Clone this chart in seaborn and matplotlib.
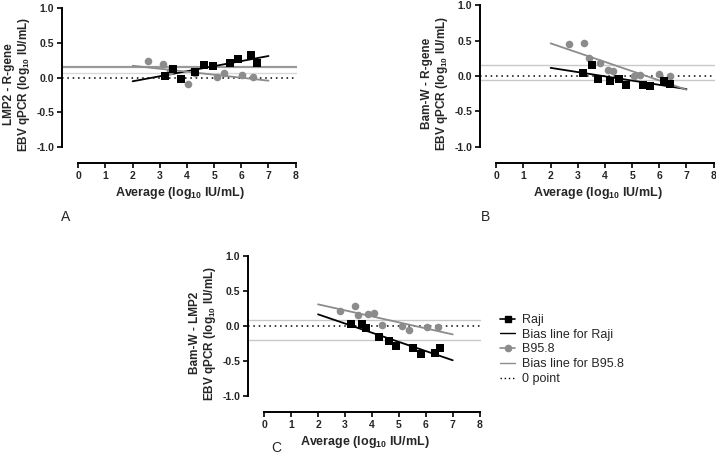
import pandas as pd
import matplotlib
import matplotlib.pyplot as plt
import seaborn as sns
from matplotlib.lines import Line2D

matplotlib.use("Agg")
sns.set_theme(style="white")
plt.rcParams["font.family"] = ["Liberation Sans", "DejaVu Sans"]
plt.rcParams["mathtext.fontset"] = "custom"
plt.rcParams["mathtext.rm"] = "Liberation Sans"
plt.rcParams["mathtext.bf"] = "Liberation Sans:bold"

# Cores
PRETO = "#000000"
CINZA = "#8c8c8c"

# Painel A - LMP2 - R-gene
a_raji_x = [3.19, 3.50, 3.77, 4.29, 4.62, 4.94, 5.58, 5.87, 6.36, 6.57]
a_raji_y = [0.02, 0.13, -0.02, 0.08, 0.18, 0.16, 0.21, 0.26, 0.33, 0.21]
a_b95_x = [2.57, 3.10, 3.37, 4.02, 4.29, 5.11, 5.36, 6.03, 6.43]
a_b95_y = [0.245, 0.19, 0.10, -0.09, 0.06, 0.005, 0.07, 0.04, 0.005]
a_fit_raji = [-0.054, 0.31]
a_fit_b95 = [0.17, -0.045]
a_bias = [0.157, 0.065]

# Painel B - Bam-W - R-gene
b_raji_x = [3.18, 3.51, 3.75, 4.18, 4.50, 4.78, 5.39, 5.66, 6.17, 6.40]
b_raji_y = [0.043, 0.16, -0.04, -0.076, -0.043, -0.13, -0.13, -0.14, -0.067, -0.12]
b_b95_x = [2.67, 3.24, 3.42, 3.82, 4.10, 4.31, 5.08, 5.29, 5.99, 6.40]
b_b95_y = [0.45, 0.47, 0.25, 0.18, 0.086, 0.067, 0.0, 0.01, 0.024, -0.005]
b_fit_raji = [0.114, -0.186]
b_fit_b95 = [0.46, -0.195]
b_bias = [0.148, -0.062]

# Painel C - Bam-W - LMP2
c_raji_x = [3.23, 3.62, 3.78, 4.26, 4.63, 4.89, 5.53, 5.83, 6.36, 6.54]
c_raji_y = [0.024, 0.033, -0.024, -0.16, -0.22, -0.29, -0.32, -0.40, -0.39, -0.32]
c_b95_x = [2.81, 3.36, 3.49, 3.86, 4.07, 4.36, 5.12, 5.37, 6.06, 6.44]
c_b95_y = [0.21, 0.29, 0.16, 0.17, 0.19, 0.01, -0.005, -0.06, -0.015, -0.01]
c_fit_raji = [0.167, -0.49]
c_fit_b95 = [0.31, -0.12]
c_bias = [0.09, -0.205]

fit_x = [2, 7]
x_ticks = [0, 1, 2, 3, 4, 5, 6, 7, 8]
y_ticks = [-1.0, -0.5, 0.0, 0.5, 1.0]
legend_labels = ["Raji", "Bias line for Raji", "B95.8", "Bias line for B95.8", "0 point"]

XLABEL = "Average (log$_{\\mathbf{10}}$ IU/mL)"

fig = plt.figure(figsize=(7.16, 4.67), dpi=100)
W, H = 716, 467


def eixo(esq, dir_, topo, base):
    # posicao em pixels -> fracao da figura
    return fig.add_axes([esq / W, 1 - base / H, (dir_ - esq) / W, (base - topo) / H])


def painel(ax, raji_x, raji_y, b95_x, b95_y, fit_raji, fit_b95, bias, ylabel,
           cores_bias):
    for valor, (cor, lw) in zip(bias, cores_bias):
        ax.axhline(valor, color=cor, lw=lw, zorder=1)
    ax.axhline(0, color=PRETO, lw=1.1, ls=(0, (1, 2.5)), zorder=1)
    ax.plot(fit_x, fit_raji, color=PRETO, lw=1.3, zorder=2)
    ax.plot(fit_x, fit_b95, color=CINZA, lw=1.3, zorder=2)
    df = pd.DataFrame({"x": raji_x + b95_x, "y": raji_y + b95_y,
                       "linha": ["Raji"] * len(raji_x) + ["B95.8"] * len(b95_x)})
    sns.scatterplot(data=df[df["linha"] == "B95.8"], x="x", y="y", color=CINZA,
                    marker="o", s=30, linewidth=0, ax=ax, zorder=3)
    sns.scatterplot(data=df[df["linha"] == "Raji"], x="x", y="y", color=PRETO,
                    marker="s", s=28, linewidth=0, ax=ax, zorder=4)
    ax.set_xlim(-0.6, 8.05)
    ax.set_ylim(-1.23, 1.03)
    ax.set_xticks(x_ticks)
    ax.set_yticks(y_ticks)
    ax.set_yticklabels([f"{v:.1f}" for v in y_ticks])
    sns.despine(ax=ax)
    ax.spines["left"].set_bounds(-1, 1)
    ax.spines["bottom"].set_bounds(0, 8)
    for lado in ["left", "bottom"]:
        ax.spines[lado].set_linewidth(1.4)
        ax.spines[lado].set_color(PRETO)
    ax.tick_params(axis="both", which="major", direction="out", length=3.5,
                   width=1.2, color=PRETO, labelsize=7.5, pad=2, left=True,
                   bottom=True)
    for lab in ax.get_xticklabels() + ax.get_yticklabels():
        lab.set_fontweight("bold")
    ax.set_xlabel(XLABEL, fontsize=9, fontweight="bold", labelpad=3)
    ax.set_ylabel(ylabel, fontsize=8.5, fontweight="bold", labelpad=3,
                  linespacing=1.1)
    ax.grid(False)


ax_a = eixo(62, 297, 6, 163)
painel(ax_a, a_raji_x, a_raji_y, a_b95_x, a_b95_y, a_fit_raji, a_fit_b95, a_bias,
       "LMP2 - R-gene\nEBV qPCR (log$_{\\mathbf{10}}$ IU/mL)",
       [("#9a9a9a", 1.6), ("#d9d9d9", 1.0)])

ax_b = eixo(480, 715, 3, 163)
painel(ax_b, b_raji_x, b_raji_y, b_b95_x, b_b95_y, b_fit_raji, b_fit_b95, b_bias,
       "Bam-W - R-gene\nEBV qPCR (log$_{\\mathbf{10}}$ IU/mL)",
       [("#c8c8c8", 1.0), ("#c8c8c8", 1.0)])

ax_c = eixo(248, 481, 254, 412)
painel(ax_c, c_raji_x, c_raji_y, c_b95_x, c_b95_y, c_fit_raji, c_fit_b95, c_bias,
       "Bam-W - LMP2\nEBV qPCR (log$_{\\mathbf{10}}$ IU/mL)",
       [("#c8c8c8", 1.0), ("#c8c8c8", 1.0)])

# Letras dos paineis
fig.text(66 / W, 1 - 217 / H, "A", fontsize=10, ha="center", va="center")
fig.text(485 / W, 1 - 217 / H, "B", fontsize=10, ha="center", va="center")
fig.text(276 / W, 1 - 448 / H, "C", fontsize=10, ha="center", va="center")

# Legenda
handles = [
    Line2D([], [], color=PRETO, lw=1.2, marker="s", markersize=5),
    Line2D([], [], color=PRETO, lw=1.0),
    Line2D([], [], color=CINZA, lw=1.2, marker="o", markersize=4.5),
    Line2D([], [], color=CINZA, lw=1.0),
    Line2D([], [], color=PRETO, lw=1.0, ls=(0, (1, 2))),
]
fig.legend(handles, legend_labels, loc="upper left",
           bbox_to_anchor=(500 / W, 1 - 314 / H), frameon=False, fontsize=9,
           handlelength=1.2, handletextpad=0.55, labelspacing=0.22,
           borderaxespad=0, borderpad=0)

plt.savefig("out.png", dpi=100)
plt.close()
